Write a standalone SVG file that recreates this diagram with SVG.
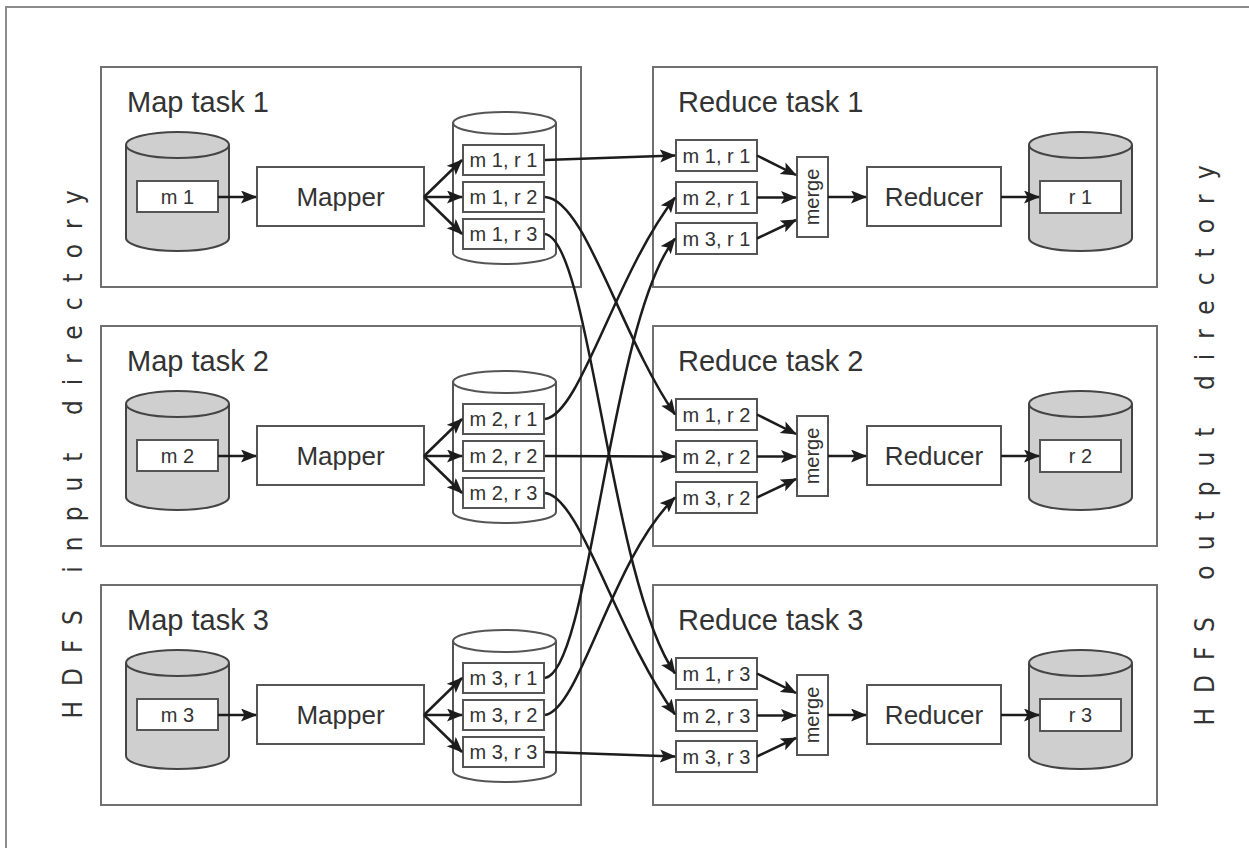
<svg xmlns="http://www.w3.org/2000/svg" xmlns:xlink="http://www.w3.org/1999/xlink" width="1249" height="848" viewBox="0 0 1249 848">
<style>
.frame{fill:none;stroke:#8c8c8c;stroke-width:2}
.task{fill:#fff;stroke:#707070;stroke-width:2}
.box{fill:#fff;stroke:#555;stroke-width:2}
.t{font-family:"Liberation Sans",Arial,sans-serif;fill:#333}
.title{font-size:29px}
.lbl{font-size:26px;text-anchor:middle}
.sm{font-size:20px;text-anchor:middle}
.side{font-family:"DejaVu Sans","Liberation Sans",sans-serif;font-stretch:condensed;font-size:26px;letter-spacing:15px;fill:#333;text-anchor:middle}
.cg{fill:#cfcfcf;stroke:#444;stroke-width:2}
.cw{fill:#fff;stroke:#555;stroke-width:2}
.conn{fill:none;stroke:#1c1c1c;stroke-width:2.5;marker-end:url(#ah)}
</style>
<defs>
<marker id="ah" markerUnits="userSpaceOnUse" markerWidth="17" markerHeight="14" refX="15" refY="6.5" orient="auto">
<path d="M0,0 L16,6.5 L0,13 L3.5,6.5 Z" fill="#1c1c1c"/>
</marker>
<g id="cylGray">
<path class="cg" d="M0,13 V106 A51.5,13 0 0 0 103,106 V13"/>
<ellipse class="cg" cx="51.5" cy="13" rx="51.5" ry="13"/>
</g>
<g id="cylWhite">
<path class="cw" d="M0,11 V141 A51.5,11 0 0 0 103,141 V11"/>
<ellipse class="cw" cx="51.5" cy="11" rx="51.5" ry="11"/>
</g>
</defs>

<rect class="frame" x="6" y="7" width="1300" height="900"/>

<text class="side" transform="translate(82,447) rotate(-90)">HDFS input directory</text>
<text class="side" transform="translate(1214,438) rotate(-90)">HDFS output directory</text>

<!-- Map task 1 -->
<g id="map-task-1">
<rect class="task" x="101" y="67" width="480" height="220"/>
<text class="t title" x="127" y="112">Map task 1</text>
<g id="input-m1"><use xlink:href="#cylGray" x="126" y="132"/><rect class="box" x="137" y="181" width="81" height="31"/><text class="t sm" x="177.5" y="204">m 1</text></g>
<g id="mapper-1"><rect class="box" x="257" y="167" width="167" height="59"/><text class="t lbl" x="340.5" y="206">Mapper</text></g>
<g id="partitions-m1"><use xlink:href="#cylWhite" x="453" y="112"/>
<rect class="box" x="463" y="145" width="81" height="30"/><text class="t sm" x="503.5" y="167">m 1, r 1</text>
<rect class="box" x="463" y="182" width="81" height="30"/><text class="t sm" x="503.5" y="204">m 1, r 2</text>
<rect class="box" x="463" y="219" width="81" height="30"/><text class="t sm" x="503.5" y="241">m 1, r 3</text></g>
</g>

<!-- Map task 2 -->
<g id="map-task-2">
<rect class="task" x="101" y="326" width="480" height="220"/>
<text class="t title" x="127" y="371">Map task 2</text>
<g id="input-m2"><use xlink:href="#cylGray" x="126" y="391"/><rect class="box" x="137" y="440" width="81" height="31"/><text class="t sm" x="177.5" y="463">m 2</text></g>
<g id="mapper-2"><rect class="box" x="257" y="426" width="167" height="59"/><text class="t lbl" x="340.5" y="465">Mapper</text></g>
<g id="partitions-m2"><use xlink:href="#cylWhite" x="453" y="371"/>
<rect class="box" x="463" y="404" width="81" height="30"/><text class="t sm" x="503.5" y="426">m 2, r 1</text>
<rect class="box" x="463" y="441" width="81" height="30"/><text class="t sm" x="503.5" y="463">m 2, r 2</text>
<rect class="box" x="463" y="478" width="81" height="30"/><text class="t sm" x="503.5" y="500">m 2, r 3</text></g>
</g>

<!-- Map task 3 -->
<g id="map-task-3">
<rect class="task" x="101" y="585" width="480" height="220"/>
<text class="t title" x="127" y="630">Map task 3</text>
<g id="input-m3"><use xlink:href="#cylGray" x="126" y="650"/><rect class="box" x="137" y="699" width="81" height="31"/><text class="t sm" x="177.5" y="722">m 3</text></g>
<g id="mapper-3"><rect class="box" x="257" y="685" width="167" height="59"/><text class="t lbl" x="340.5" y="724">Mapper</text></g>
<g id="partitions-m3"><use xlink:href="#cylWhite" x="453" y="630"/>
<rect class="box" x="463" y="663" width="81" height="30"/><text class="t sm" x="503.5" y="685">m 3, r 1</text>
<rect class="box" x="463" y="700" width="81" height="30"/><text class="t sm" x="503.5" y="722">m 3, r 2</text>
<rect class="box" x="463" y="737" width="81" height="30"/><text class="t sm" x="503.5" y="759">m 3, r 3</text></g>
</g>

<!-- Reduce task 1 -->
<g id="reduce-task-1">
<rect class="task" x="653" y="67" width="504" height="220"/>
<text class="t title" x="678" y="112">Reduce task 1</text>
<g id="inputs-r1">
<rect class="box" x="676" y="140" width="81" height="31"/><text class="t sm" x="716.5" y="162.5">m 1, r 1</text>
<rect class="box" x="676" y="182" width="81" height="31"/><text class="t sm" x="716.5" y="204.5">m 2, r 1</text>
<rect class="box" x="676" y="223" width="81" height="31"/><text class="t sm" x="716.5" y="245.5">m 3, r 1</text></g>
<g id="merge-1"><rect class="box" x="797" y="157" width="31" height="80"/><text class="t sm" transform="translate(819,197) rotate(-90)">merge</text></g>
<g id="reducer-1"><rect class="box" x="867" y="167" width="134" height="59"/><text class="t lbl" x="934" y="206">Reducer</text></g>
<g id="output-r1"><use xlink:href="#cylGray" x="1029" y="132"/><rect class="box" x="1040" y="181" width="81" height="32"/><text class="t sm" x="1080.5" y="204">r 1</text></g>
</g>

<!-- Reduce task 2 -->
<g id="reduce-task-2">
<rect class="task" x="653" y="326" width="504" height="220"/>
<text class="t title" x="678" y="371">Reduce task 2</text>
<g id="inputs-r2">
<rect class="box" x="676" y="399" width="81" height="31"/><text class="t sm" x="716.5" y="421.5">m 1, r 2</text>
<rect class="box" x="676" y="441" width="81" height="31"/><text class="t sm" x="716.5" y="463.5">m 2, r 2</text>
<rect class="box" x="676" y="482" width="81" height="31"/><text class="t sm" x="716.5" y="504.5">m 3, r 2</text></g>
<g id="merge-2"><rect class="box" x="797" y="416" width="31" height="80"/><text class="t sm" transform="translate(819,456) rotate(-90)">merge</text></g>
<g id="reducer-2"><rect class="box" x="867" y="426" width="134" height="59"/><text class="t lbl" x="934" y="465">Reducer</text></g>
<g id="output-r2"><use xlink:href="#cylGray" x="1029" y="391"/><rect class="box" x="1040" y="440" width="81" height="32"/><text class="t sm" x="1080.5" y="463">r 2</text></g>
</g>

<!-- Reduce task 3 -->
<g id="reduce-task-3">
<rect class="task" x="653" y="585" width="504" height="220"/>
<text class="t title" x="678" y="630">Reduce task 3</text>
<g id="inputs-r3">
<rect class="box" x="676" y="658" width="81" height="31"/><text class="t sm" x="716.5" y="680.5">m 1, r 3</text>
<rect class="box" x="676" y="700" width="81" height="31"/><text class="t sm" x="716.5" y="722.5">m 2, r 3</text>
<rect class="box" x="676" y="741" width="81" height="31"/><text class="t sm" x="716.5" y="763.5">m 3, r 3</text></g>
<g id="merge-3"><rect class="box" x="797" y="675" width="31" height="80"/><text class="t sm" transform="translate(819,715) rotate(-90)">merge</text></g>
<g id="reducer-3"><rect class="box" x="867" y="685" width="134" height="59"/><text class="t lbl" x="934" y="724">Reducer</text></g>
<g id="output-r3"><use xlink:href="#cylGray" x="1029" y="650"/><rect class="box" x="1040" y="699" width="81" height="32"/><text class="t sm" x="1080.5" y="722">r 3</text></g>
</g>

<g id="connectors">
<!-- row 1 -->
<path class="conn" d="M218,197 L256,197"/>
<path class="conn" d="M424,197 L462,160"/>
<path class="conn" d="M424,197 L462,197"/>
<path class="conn" d="M424,197 L462,234"/>
<path class="conn" d="M757,155.5 L796,175"/>
<path class="conn" d="M757,197.5 L796,197.5"/>
<path class="conn" d="M757,238.5 L796,220"/>
<path class="conn" d="M828,197 L866,197"/>
<path class="conn" d="M1001,197 L1039,197"/>
<!-- row 2 -->
<path class="conn" d="M218,456 L256,456"/>
<path class="conn" d="M424,456 L462,419"/>
<path class="conn" d="M424,456 L462,456"/>
<path class="conn" d="M424,456 L462,493"/>
<path class="conn" d="M757,414.5 L796,434"/>
<path class="conn" d="M757,456.5 L796,456.5"/>
<path class="conn" d="M757,497.5 L796,479"/>
<path class="conn" d="M828,456 L866,456"/>
<path class="conn" d="M1001,456 L1039,456"/>
<!-- row 3 -->
<path class="conn" d="M218,715 L256,715"/>
<path class="conn" d="M424,715 L462,678"/>
<path class="conn" d="M424,715 L462,715"/>
<path class="conn" d="M424,715 L462,752"/>
<path class="conn" d="M757,673.5 L796,693"/>
<path class="conn" d="M757,715.5 L796,715.5"/>
<path class="conn" d="M757,756.5 L796,738"/>
<path class="conn" d="M828,715 L866,715"/>
<path class="conn" d="M1001,715 L1039,715"/>
<!-- shuffle -->
<path class="conn" d="M545,160 L675,155.5"/>
<path class="conn" d="M545,197 C585,199 620,335 675,414.5"/>
<path class="conn" d="M545,234 C590,240 610,580 675,673.5"/>
<path class="conn" d="M545,419 C580,415 615,275 675,197.5"/>
<path class="conn" d="M545,456 L675,456.5"/>
<path class="conn" d="M545,493 C580,496 615,630 675,714.5"/>
<path class="conn" d="M545,678 C590,672 610,320 675,238.5"/>
<path class="conn" d="M545,715 C580,710 612,558 675,497.5"/>
<path class="conn" d="M545,752 L675,756.5"/>
</g>
</svg>
